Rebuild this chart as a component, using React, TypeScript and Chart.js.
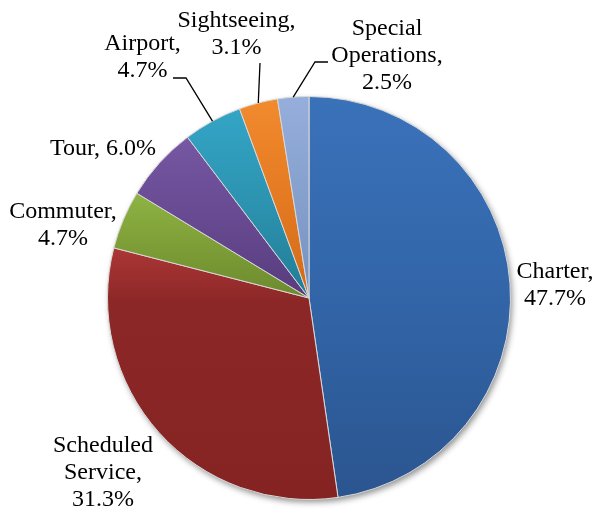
import React, { useEffect, useRef } from "react";
import { Chart, registerables } from "chart.js";

Chart.register(...registerables);

// ---- data ----
const categories = [
  "Charter",
  "Scheduled Service",
  "Commuter",
  "Tour",
  "Airport",
  "Sightseeing",
  "Special Operations",
];
const shares = [47.7, 31.3, 4.7, 6.0, 4.7, 3.1, 2.5];

// ---- style ----
const topColors = ["#3A72BA", "#AC3636", "#8FB344", "#7557A3", "#34A5C6", "#F28A2E", "#95AEDB"];
const midColors = ["#3265A8", "#8C2727", "#7D9E37", "#674A91", "#2C93B0", "#E47A22", "#86A0CE"];
const midStops = [0.5, 0.22, 0.5, 0.5, 0.5, 0.5, 0.5];
const bottomColors = ["#2B558F", "#852323", "#6C8A2E", "#583C7E", "#227C96", "#D26A18", "#7591C1"];

const labelLines: string[][] = categories.map((c, i) => {
  const pct = shares[i].toFixed(1) + "%";
  if (c === "Tour") return [c + ", " + pct];
  const words = c.split(" ");
  words[words.length - 1] += ",";
  return [...words, pct];
});
const labelAnchor: [number, number][] = [
  [555, 278],
  [103, 452],
  [63, 218],
  [103, 155],
  [142.5, 50],
  [236.5, 27],
  [387, 35],
];
const leaders: Record<number, [number, number][]> = {
  4: [[186, 78], [173, 78]],
  5: [[260, 63], [260, 63]],
  6: [[315, 62], [328, 62]],
};

const FONT = "24px 'Liberation Serif', 'Times New Roman', serif";
const LINE_H = 27;

function sliceYRange(cy: number, r: number, a0: number, a1: number) {
  const ys = [cy, cy + r * Math.sin(a0), cy + r * Math.sin(a1)];
  for (const t of [-Math.PI / 2, Math.PI / 2, (3 * Math.PI) / 2, (5 * Math.PI) / 2]) {
    if (t >= a0 - 1e-9 && t <= a1 + 1e-9) ys.push(cy + r * Math.sin(t));
  }
  return [Math.min(...ys), Math.max(...ys)];
}

const shadowPlugin = {
  id: "pieShadow",
  beforeDatasetsDraw(chart: any) {
    const arc = chart.getDatasetMeta(0).data[0];
    if (!arc) return;
    const { ctx } = chart;
    ctx.save();
    ctx.shadowColor = "rgba(0,0,0,0.45)";
    ctx.shadowBlur = 6;
    ctx.shadowOffsetX = 2;
    ctx.shadowOffsetY = 3;
    ctx.fillStyle = "#888";
    ctx.beginPath();
    ctx.arc(arc.x, arc.y, arc.outerRadius - 0.5, 0, Math.PI * 2);
    ctx.fill();
    ctx.restore();
  },
};

const labelPlugin = {
  id: "outLabels",
  afterDatasetsDraw(chart: any) {
    const { ctx } = chart;
    const arcs = chart.getDatasetMeta(0).data;
    ctx.save();
    ctx.strokeStyle = "#000";
    ctx.lineWidth = 1.3;
    Object.keys(leaders).forEach((k) => {
      const i = Number(k);
      const a = arcs[i];
      if (!a) return;
      const mid = (a.startAngle + a.endAngle) / 2;
      const sx = a.x + a.outerRadius * Math.cos(mid);
      const sy = a.y + a.outerRadius * Math.sin(mid);
      const [p1, p2] = leaders[i];
      ctx.beginPath();
      ctx.moveTo(sx, sy);
      ctx.lineTo(p1[0], p1[1]);
      ctx.lineTo(p2[0], p2[1]);
      ctx.stroke();
    });
    ctx.font = FONT;
    ctx.fillStyle = "#000";
    ctx.textAlign = "center";
    ctx.textBaseline = "alphabetic";
    labelLines.forEach((lines, i) => {
      const [x, y] = labelAnchor[i];
      lines.forEach((t, j) => ctx.fillText(t, x, y + j * LINE_H));
    });
    ctx.restore();
  },
};

export default function App() {
  const ref = useRef<HTMLCanvasElement>(null);
  useEffect(() => {
    if (!ref.current) return;
    const total = shares.reduce((a, b) => a + b, 0);
    const chart = new Chart(ref.current, {
      type: "pie",
      data: {
        labels: categories,
        datasets: [
          {
            data: shares,
            borderColor: "#D9D9D9",
            borderWidth: 1,
            backgroundColor: (c: any) => {
              const i = c.dataIndex ?? 0;
              const chartObj = c.chart;
              const area = chartObj.chartArea;
              if (!area) return topColors[i];
              const cy = (area.top + area.bottom) / 2;
              const r = Math.min(area.right - area.left, area.bottom - area.top) / 2;
              let a0 = -Math.PI / 2;
              for (let k = 0; k < i; k++) a0 += (shares[k] / total) * Math.PI * 2;
              const a1 = a0 + (shares[i] / total) * Math.PI * 2;
              const [y0, y1] = sliceYRange(cy, r, a0, a1);
              const g = chartObj.ctx.createLinearGradient(0, y0, 0, y1);
              g.addColorStop(0, topColors[i]);
              g.addColorStop(midStops[i], midColors[i]);
              g.addColorStop(1, bottomColors[i]);
              return g;
            },
          },
        ],
      },
      options: {
        responsive: false,
        animation: false,
        layout: { padding: { left: 107, right: 84, top: 96, bottom: 10 } },
        plugins: {
          legend: { display: false },
          tooltip: { enabled: false },
        },
      },
      plugins: [shadowPlugin, labelPlugin],
    });
    return () => chart.destroy();
  }, []);
  return (
    <div style={{ position: "absolute", left: 0, top: 0, width: 595, height: 510, background: "#fff" }}>
      <canvas ref={ref} width={595} height={510} style={{ width: 595, height: 510 }} />
    </div>
  );
}
